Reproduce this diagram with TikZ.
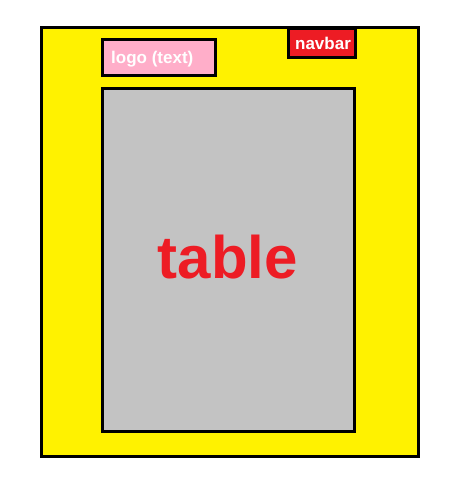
\documentclass[tikz,border=0pt]{standalone}
\usepackage{fontspec}
\setmainfont{Liberation Sans}
\definecolor{pyellow}{HTML}{FFF200}
\definecolor{ppink}{HTML}{FFAEC9}
\definecolor{pred}{HTML}{ED1C24}
\definecolor{pgray}{HTML}{C3C3C3}
\begin{document}
\begin{tikzpicture}[x=1pt,y=-1pt,
  boxline/.style={draw=black, line width=3pt},
  lbl/.style={font=\bfseries\fontsize{17}{17}\selectfont, text=white}]
\useasboundingbox (0,0) rectangle (474,496);
\fill[white] (0,0) rectangle (474,496);
\path[boxline, fill=pyellow] (41,27) rectangle (418,456);
\path[boxline, fill=ppink] (102,39) rectangle (215,75);
\path[boxline, fill=pred] (288,28) rectangle (355,57);
\path[boxline, fill=pgray] (102,88) rectangle (354,431);
\node[lbl, anchor=base west, inner sep=0pt] (logo) at (111,63) {logo (text)};
\node[lbl, inner sep=0pt] (navbar) at (323,43) {navbar};
\node[font=\bfseries\fontsize{60}{60}\selectfont, text=pred, inner sep=0pt, anchor=base] (table) at (228,278) {table};
\end{tikzpicture}
\end{document}
